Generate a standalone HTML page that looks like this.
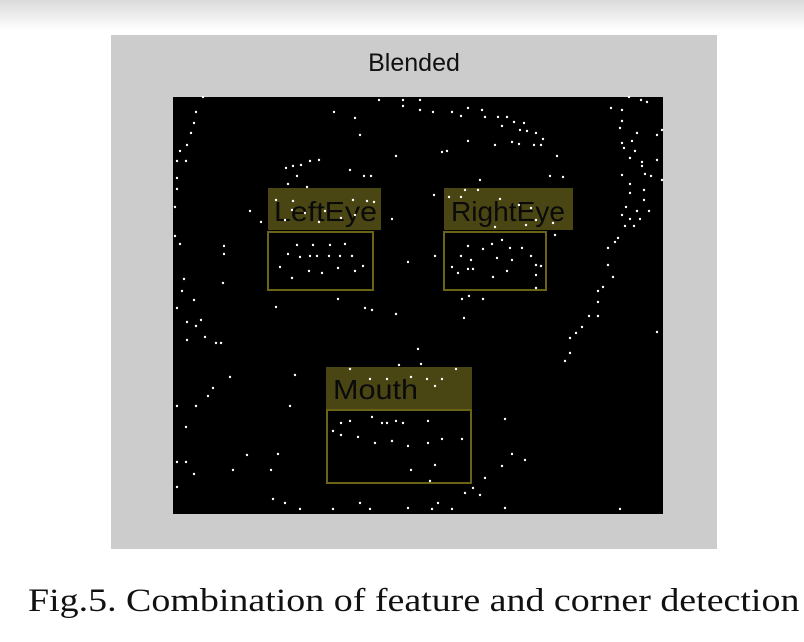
<!DOCTYPE html>
<html><head><meta charset="utf-8"><style>
body{margin:0;width:804px;height:642px;background:#fff;position:relative;overflow:hidden;font-family:"Liberation Sans",sans-serif}
.top{position:absolute;left:0;top:0;width:804px;height:30px;background:linear-gradient(#dadada,#fff)}
.panel{position:absolute;left:111px;top:35px;width:606px;height:514px;background:#cccccc}
.title{position:absolute;left:111px;top:49px;width:606px;text-align:center;font-size:25px;color:#111}
.cap{position:absolute;left:28px;top:583px;font-family:"Liberation Serif",serif;font-size:33px;color:#111;white-space:nowrap;transform:scaleX(1.15);transform-origin:0 0}
svg{position:absolute;left:0;top:0}
</style></head><body>
<div class="top"></div>
<div class="panel"></div>
<div class="title">Blended</div>
<svg width="804" height="642">
<rect x="173" y="97" width="490" height="417" fill="#000"/>
<g fill="#4a4614">
<rect x="268" y="188" width="113" height="42"/>
<rect x="444" y="188" width="129" height="42"/>
<rect x="326" y="367" width="146" height="43"/>
</g>
<g font-family="Liberation Sans,sans-serif" font-size="28" fill="#0a0a0a">
<text x="274" y="221" textLength="103" lengthAdjust="spacingAndGlyphs">LeftEye</text>
<text x="451" y="221" textLength="114" lengthAdjust="spacingAndGlyphs">RightEye</text>
<text x="333" y="399" textLength="85" lengthAdjust="spacingAndGlyphs">Mouth</text>
</g>
<g fill="none" stroke="#6b6416" stroke-width="2">
<rect x="268" y="232" width="105" height="58"/>
<rect x="444" y="232" width="102" height="58"/>
<rect x="327" y="410" width="144" height="73"/>
</g>
<g fill="#fff">
<circle cx="203" cy="97" r="1.2"/><circle cx="196" cy="112" r="1.2"/><circle cx="194" cy="123" r="1.2"/><circle cx="191" cy="133" r="1.2"/><circle cx="187" cy="145" r="1.2"/><circle cx="180" cy="151" r="1.2"/><circle cx="177" cy="161" r="1.2"/><circle cx="186" cy="161" r="1.2"/><circle cx="177" cy="178" r="1.2"/><circle cx="177" cy="189" r="1.2"/><circle cx="175" cy="207" r="1.2"/><circle cx="175" cy="236" r="1.2"/><circle cx="180" cy="244" r="1.2"/><circle cx="184" cy="279" r="1.2"/><circle cx="182" cy="291" r="1.2"/><circle cx="177" cy="308" r="1.2"/><circle cx="194" cy="300" r="1.2"/><circle cx="187" cy="322" r="1.2"/><circle cx="196" cy="326" r="1.2"/><circle cx="201" cy="320" r="1.2"/><circle cx="205" cy="337" r="1.2"/><circle cx="187" cy="340" r="1.2"/><circle cx="216" cy="343" r="1.2"/><circle cx="221" cy="343" r="1.2"/><circle cx="230" cy="377" r="1.2"/><circle cx="213" cy="388" r="1.2"/><circle cx="208" cy="396" r="1.2"/><circle cx="196" cy="406" r="1.2"/><circle cx="177" cy="406" r="1.2"/><circle cx="186" cy="427" r="1.2"/><circle cx="177" cy="462" r="1.2"/><circle cx="186" cy="462" r="1.2"/><circle cx="194" cy="474" r="1.2"/><circle cx="177" cy="487" r="1.2"/><circle cx="247" cy="455" r="1.2"/><circle cx="233" cy="470" r="1.2"/><circle cx="271" cy="470" r="1.2"/><circle cx="278" cy="454" r="1.2"/><circle cx="290" cy="406" r="1.2"/><circle cx="295" cy="375" r="1.2"/><circle cx="273" cy="499" r="1.2"/><circle cx="285" cy="503" r="1.2"/><circle cx="300" cy="509" r="1.2"/><circle cx="333" cy="509" r="1.2"/><circle cx="360" cy="503" r="1.2"/><circle cx="370" cy="509" r="1.2"/><circle cx="408" cy="508" r="1.2"/><circle cx="432" cy="509" r="1.2"/><circle cx="438" cy="503" r="1.2"/><circle cx="452" cy="509" r="1.2"/><circle cx="465" cy="493" r="1.2"/><circle cx="473" cy="488" r="1.2"/><circle cx="480" cy="495" r="1.2"/><circle cx="485" cy="478" r="1.2"/><circle cx="502" cy="466" r="1.2"/><circle cx="512" cy="454" r="1.2"/><circle cx="525" cy="460" r="1.2"/><circle cx="505" cy="419" r="1.2"/><circle cx="505" cy="508" r="1.2"/><circle cx="620" cy="509" r="1.2"/>
<circle cx="379" cy="100" r="1.2"/><circle cx="334" cy="112" r="1.2"/><circle cx="355" cy="118" r="1.2"/><circle cx="360" cy="135" r="1.2"/><circle cx="396" cy="156" r="1.2"/><circle cx="403" cy="100" r="1.2"/><circle cx="420" cy="100" r="1.2"/><circle cx="403" cy="106" r="1.2"/><circle cx="420" cy="110" r="1.2"/><circle cx="433" cy="112" r="1.2"/><circle cx="452" cy="112" r="1.2"/><circle cx="461" cy="116" r="1.2"/><circle cx="468" cy="108" r="1.2"/><circle cx="482" cy="110" r="1.2"/><circle cx="485" cy="117" r="1.2"/><circle cx="498" cy="117" r="1.2"/><circle cx="507" cy="117" r="1.2"/><circle cx="502" cy="126" r="1.2"/><circle cx="514" cy="122" r="1.2"/><circle cx="524" cy="123" r="1.2"/><circle cx="520" cy="130" r="1.2"/><circle cx="527" cy="131" r="1.2"/><circle cx="536" cy="133" r="1.2"/><circle cx="543" cy="139" r="1.2"/><circle cx="512" cy="142" r="1.2"/><circle cx="519" cy="144" r="1.2"/><circle cx="534" cy="145" r="1.2"/><circle cx="541" cy="145" r="1.2"/><circle cx="468" cy="141" r="1.2"/><circle cx="495" cy="145" r="1.2"/><circle cx="447" cy="151" r="1.2"/><circle cx="442" cy="152" r="1.2"/><circle cx="350" cy="170" r="1.2"/><circle cx="364" cy="176" r="1.2"/><circle cx="371" cy="176" r="1.2"/><circle cx="286" cy="168" r="1.2"/><circle cx="293" cy="166" r="1.2"/><circle cx="301" cy="165" r="1.2"/><circle cx="310" cy="161" r="1.2"/><circle cx="319" cy="160" r="1.2"/><circle cx="297" cy="176" r="1.2"/><circle cx="288" cy="184" r="1.2"/><circle cx="307" cy="187" r="1.2"/><circle cx="250" cy="211" r="1.2"/><circle cx="261" cy="222" r="1.2"/><circle cx="392" cy="219" r="1.2"/><circle cx="434" cy="195" r="1.2"/><circle cx="480" cy="180" r="1.2"/><circle cx="435" cy="256" r="1.2"/><circle cx="408" cy="262" r="1.2"/><circle cx="224" cy="246" r="1.2"/><circle cx="224" cy="254" r="1.2"/><circle cx="223" cy="283" r="1.2"/><circle cx="276" cy="307" r="1.2"/><circle cx="338" cy="299" r="1.2"/><circle cx="365" cy="308" r="1.2"/><circle cx="372" cy="310" r="1.2"/><circle cx="396" cy="314" r="1.2"/><circle cx="462" cy="299" r="1.2"/><circle cx="469" cy="296" r="1.2"/><circle cx="483" cy="299" r="1.2"/><circle cx="464" cy="318" r="1.2"/><circle cx="418" cy="349" r="1.2"/><circle cx="399" cy="365" r="1.2"/><circle cx="421" cy="364" r="1.2"/><circle cx="555" cy="235" r="1.2"/><circle cx="550" cy="176" r="1.2"/><circle cx="557" cy="156" r="1.2"/><circle cx="563" cy="177" r="1.2"/><circle cx="629" cy="97" r="1.2"/><circle cx="641" cy="100" r="1.2"/><circle cx="611" cy="108" r="1.2"/><circle cx="622" cy="110" r="1.2"/><circle cx="647" cy="102" r="1.2"/><circle cx="622" cy="121" r="1.2"/><circle cx="620" cy="128" r="1.2"/><circle cx="637" cy="133" r="1.2"/><circle cx="657" cy="135" r="1.2"/><circle cx="622" cy="143" r="1.2"/><circle cx="632" cy="141" r="1.2"/><circle cx="624" cy="148" r="1.2"/><circle cx="635" cy="151" r="1.2"/><circle cx="630" cy="158" r="1.2"/><circle cx="642" cy="162" r="1.2"/><circle cx="642" cy="166" r="1.2"/><circle cx="657" cy="160" r="1.2"/><circle cx="645" cy="174" r="1.2"/><circle cx="651" cy="176" r="1.2"/><circle cx="622" cy="175" r="1.2"/><circle cx="630" cy="184" r="1.2"/><circle cx="630" cy="193" r="1.2"/><circle cx="644" cy="190" r="1.2"/><circle cx="644" cy="200" r="1.2"/><circle cx="626" cy="207" r="1.2"/><circle cx="637" cy="211" r="1.2"/><circle cx="649" cy="211" r="1.2"/><circle cx="622" cy="215" r="1.2"/><circle cx="630" cy="219" r="1.2"/><circle cx="640" cy="219" r="1.2"/><circle cx="625" cy="226" r="1.2"/><circle cx="634" cy="226" r="1.2"/><circle cx="618" cy="238" r="1.2"/><circle cx="615" cy="242" r="1.2"/><circle cx="608" cy="248" r="1.2"/><circle cx="608" cy="265" r="1.2"/><circle cx="613" cy="277" r="1.2"/><circle cx="603" cy="287" r="1.2"/><circle cx="598" cy="291" r="1.2"/><circle cx="598" cy="302" r="1.2"/><circle cx="598" cy="316" r="1.2"/><circle cx="589" cy="316" r="1.2"/><circle cx="582" cy="327" r="1.2"/><circle cx="576" cy="333" r="1.2"/><circle cx="570" cy="338" r="1.2"/><circle cx="570" cy="353" r="1.2"/><circle cx="565" cy="361" r="1.2"/><circle cx="657" cy="332" r="1.2"/><circle cx="662" cy="180" r="1.2"/><circle cx="662" cy="130" r="1.2"/>
<circle cx="288" cy="254" r="1.2"/><circle cx="297" cy="245" r="1.2"/><circle cx="313" cy="245" r="1.2"/><circle cx="330" cy="245" r="1.2"/><circle cx="300" cy="257" r="1.2"/><circle cx="310" cy="256" r="1.2"/><circle cx="317" cy="256" r="1.2"/><circle cx="329" cy="256" r="1.2"/><circle cx="340" cy="256" r="1.2"/><circle cx="352" cy="256" r="1.2"/><circle cx="280" cy="267" r="1.2"/><circle cx="309" cy="271" r="1.2"/><circle cx="322" cy="273" r="1.2"/><circle cx="338" cy="268" r="1.2"/><circle cx="355" cy="271" r="1.2"/><circle cx="363" cy="266" r="1.2"/><circle cx="292" cy="278" r="1.2"/><circle cx="345" cy="244" r="1.2"/>
<circle cx="468" cy="246" r="1.2"/><circle cx="483" cy="249" r="1.2"/><circle cx="492" cy="244" r="1.2"/><circle cx="502" cy="240" r="1.2"/><circle cx="510" cy="248" r="1.2"/><circle cx="522" cy="248" r="1.2"/><circle cx="461" cy="256" r="1.2"/><circle cx="471" cy="260" r="1.2"/><circle cx="497" cy="258" r="1.2"/><circle cx="512" cy="260" r="1.2"/><circle cx="531" cy="256" r="1.2"/><circle cx="452" cy="267" r="1.2"/><circle cx="458" cy="273" r="1.2"/><circle cx="468" cy="269" r="1.2"/><circle cx="473" cy="269" r="1.2"/><circle cx="493" cy="277" r="1.2"/><circle cx="507" cy="271" r="1.2"/><circle cx="536" cy="265" r="1.2"/><circle cx="541" cy="266" r="1.2"/><circle cx="536" cy="275" r="1.2"/><circle cx="536" cy="288" r="1.2"/>
<circle cx="341" cy="423" r="1.2"/><circle cx="350" cy="421" r="1.2"/><circle cx="372" cy="417" r="1.2"/><circle cx="382" cy="423" r="1.2"/><circle cx="387" cy="423" r="1.2"/><circle cx="396" cy="421" r="1.2"/><circle cx="403" cy="423" r="1.2"/><circle cx="428" cy="421" r="1.2"/><circle cx="333" cy="431" r="1.2"/><circle cx="341" cy="435" r="1.2"/><circle cx="358" cy="437" r="1.2"/><circle cx="375" cy="443" r="1.2"/><circle cx="392" cy="441" r="1.2"/><circle cx="408" cy="446" r="1.2"/><circle cx="428" cy="443" r="1.2"/><circle cx="442" cy="439" r="1.2"/><circle cx="462" cy="439" r="1.2"/><circle cx="435" cy="465" r="1.2"/><circle cx="411" cy="470" r="1.2"/><circle cx="430" cy="481" r="1.2"/>
<circle cx="350" cy="369" r="1.2"/><circle cx="370" cy="379" r="1.2"/><circle cx="387" cy="379" r="1.2"/><circle cx="411" cy="377" r="1.2"/><circle cx="427" cy="379" r="1.2"/><circle cx="435" cy="386" r="1.2"/><circle cx="442" cy="379" r="1.2"/><circle cx="456" cy="369" r="1.2"/>
<circle cx="276" cy="200" r="1.2"/><circle cx="293" cy="201" r="1.2"/><circle cx="292" cy="210" r="1.2"/><circle cx="305" cy="213" r="1.2"/><circle cx="325" cy="211" r="1.2"/><circle cx="353" cy="200" r="1.2"/><circle cx="367" cy="201" r="1.2"/><circle cx="355" cy="215" r="1.2"/><circle cx="374" cy="202" r="1.2"/><circle cx="285" cy="220" r="1.2"/><circle cx="319" cy="222" r="1.2"/><circle cx="341" cy="218" r="1.2"/><circle cx="465" cy="190" r="1.2"/><circle cx="478" cy="190" r="1.2"/><circle cx="449" cy="197" r="1.2"/><circle cx="461" cy="197" r="1.2"/><circle cx="500" cy="199" r="1.2"/><circle cx="519" cy="205" r="1.2"/><circle cx="531" cy="208" r="1.2"/><circle cx="536" cy="220" r="1.2"/><circle cx="553" cy="223" r="1.2"/><circle cx="495" cy="227" r="1.2"/><circle cx="526" cy="225" r="1.2"/>
</g>
</svg>
<div class="cap">Fig.5. Combination of feature and corner detection</div>
</body></html>
